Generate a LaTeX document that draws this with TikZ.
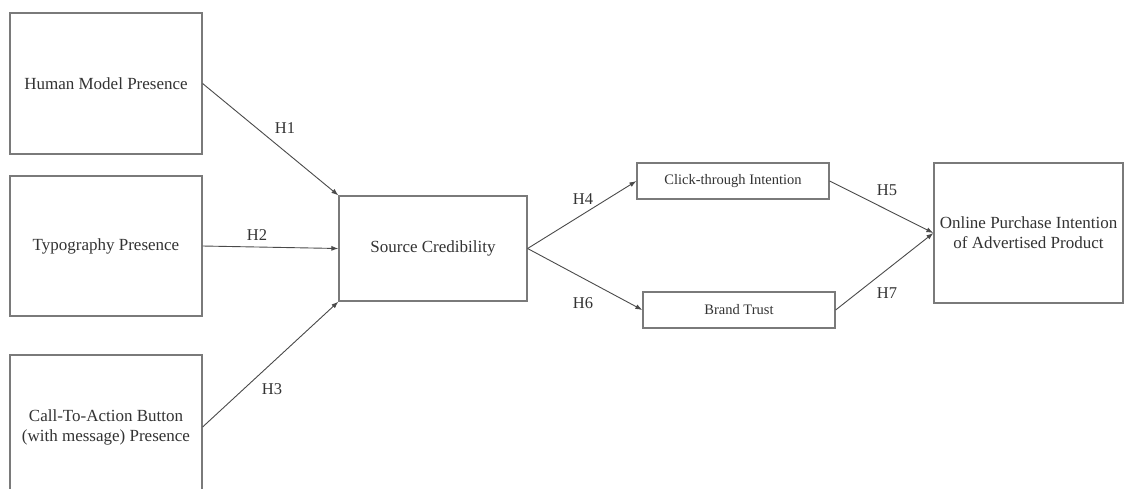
\documentclass[tikz,border=0pt]{standalone}
\usepackage{fontspec}
\setmainfont{Liberation Serif}
\usetikzlibrary{arrows.meta}
\definecolor{boxgray}{HTML}{7A7A7A}
\definecolor{linegray}{HTML}{4A4A4A}
\definecolor{txtgray}{HTML}{333333}
\tikzset{
  bigbox/.style={draw=boxgray, line width=1.2pt, fill=white, inner sep=0pt, align=center,
    text=txtgray, font=\fontsize{17}{20}\selectfont},
  smallbox/.style={draw=boxgray, line width=1.2pt, fill=white, inner sep=0pt, align=center,
    text=txtgray, font=\fontsize{14.5}{17}\selectfont, minimum width=192pt, minimum height=36pt},
  hyp/.style={text=txtgray, font=\fontsize{16.5}{19}\selectfont, inner sep=0pt},
  link/.style={draw=linegray, line width=0.9pt, -{Latex[length=7pt,width=5pt]}}
}
\begin{document}
\begin{tikzpicture}[x=1pt,y=-1pt]
\useasboundingbox (0,0) rectangle (1124,488);
\fill[white] (0,0) rectangle (1124,488);
\clip (0,0) rectangle (1124,488);
% boxes
\node[bigbox, minimum width=192pt, minimum height=141pt] (hmp) at (106,83.5) {Human Model Presence};
\node[bigbox, minimum width=192pt, minimum height=140pt] (tp) at (106,246) {Typography Presence};
\node[bigbox, minimum width=192pt, minimum height=144pt] (cta) at (106,427) {Call-To-Action Button\\(with message) Presence};
\node[bigbox, minimum width=188pt, minimum height=105pt] (sc) at (433,248.5) {Source Credibility};
\node[smallbox] (cti) at (733,181) {Click-through Intention};
\node[smallbox] (bt) at (739,310) {Brand Trust};
\node[bigbox, minimum width=189pt, minimum height=140pt] (opi) at (1028.5,233) {Online Purchase Intention\\of Advertised Product};
% connectors
\draw[link] (hmp.east) -- (sc.north west);
\draw[link] (tp.east) -- (sc.west);
\draw[link] (cta.east) -- (sc.south west);
\draw[link] (sc.east) -- (cti.west);
\draw[link] (sc.east) -- (bt.west);
\draw[link] (cti.east) -- (opi.west);
\draw[link] (bt.east) -- (opi.west);
% labels
\node[hyp] (h1) at (285,128) {H1};
\node[hyp] (h2) at (257,235) {H2};
\node[hyp] (h3) at (272,389) {H3};
\node[hyp] (h4) at (583,199) {H4};
\node[hyp] (h6) at (583,303) {H6};
\node[hyp] (h5) at (887,190) {H5};
\node[hyp] (h7) at (887,293) {H7};
\end{tikzpicture}
\end{document}
